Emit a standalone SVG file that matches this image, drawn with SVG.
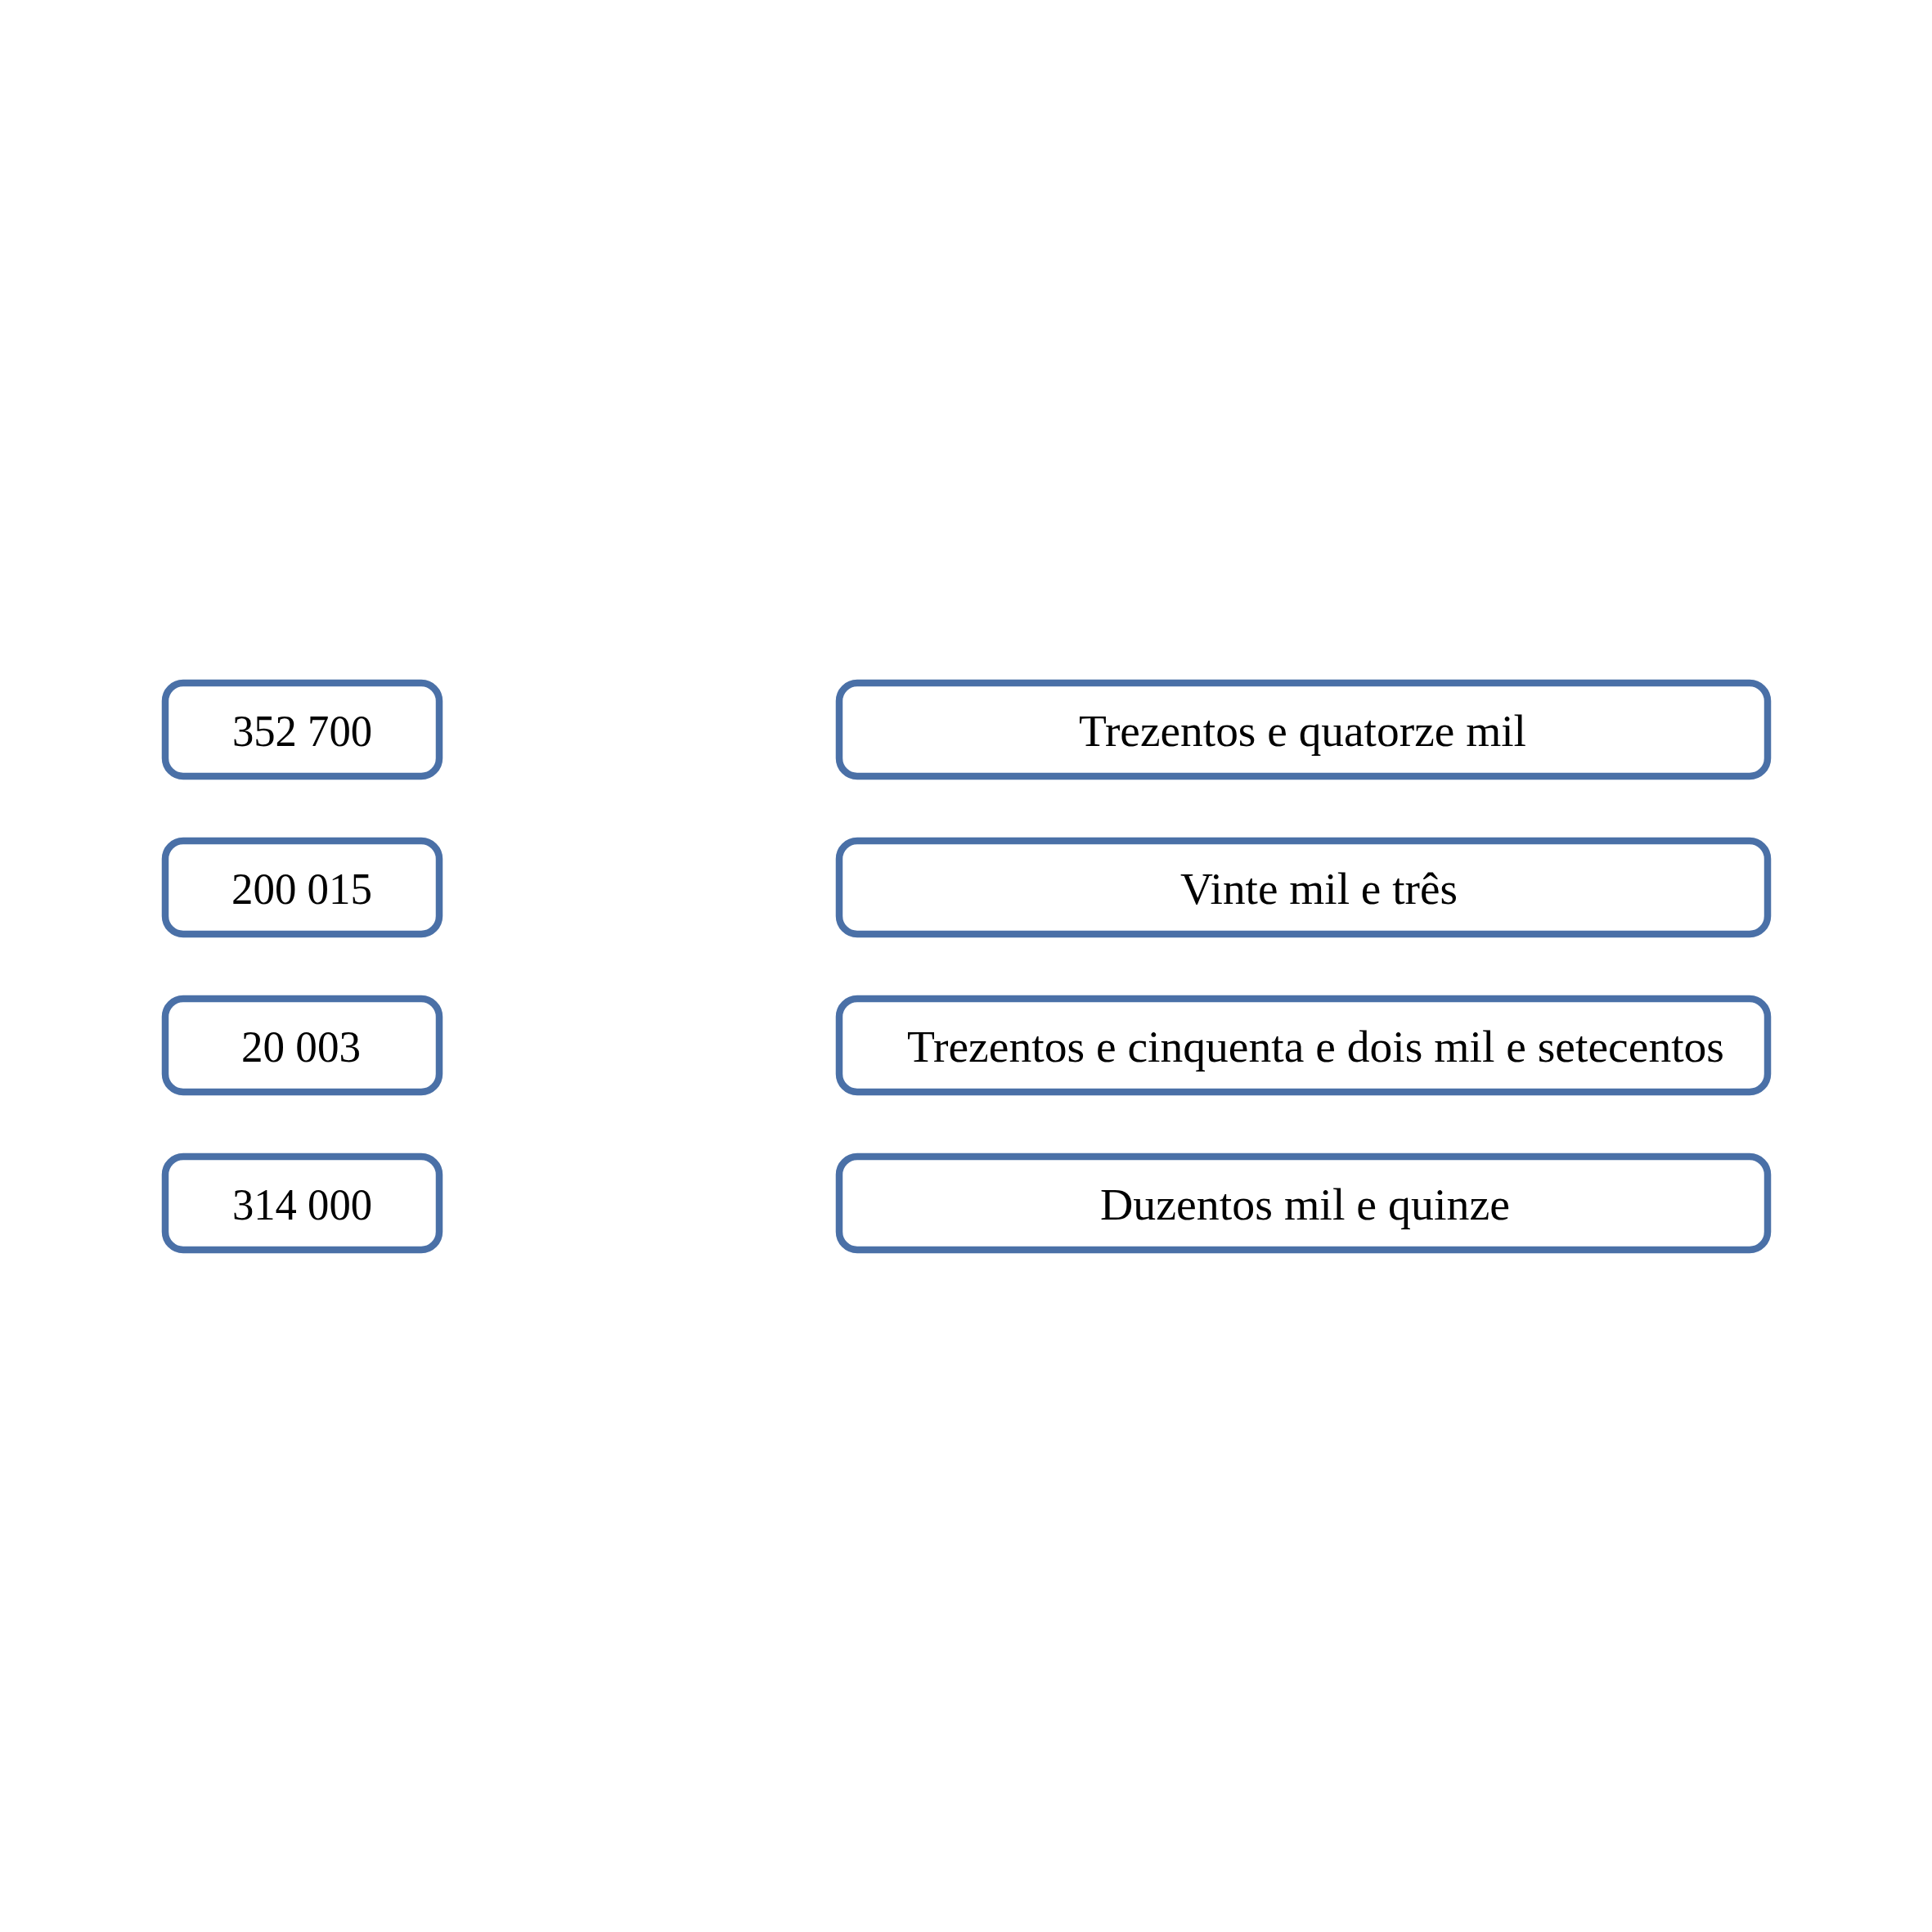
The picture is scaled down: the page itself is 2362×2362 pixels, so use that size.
<svg xmlns="http://www.w3.org/2000/svg" width="2362" height="2362" viewBox="0 0 2362 2362">
<style>
.box{fill:#ffffff;stroke:#4A70A7;stroke-width:8.5}
.t{font-family:"Liberation Serif","Times New Roman",serif;font-size:55px;fill:#000000}
</style>
<rect width="2362" height="2362" fill="#ffffff"/>
<g id="n1"><rect class="box" x="202" y="835" width="335" height="114" rx="22"/><text class="t" x="284" y="912" textLength="171" lengthAdjust="spacingAndGlyphs">352 700</text></g>
<g id="n2"><rect class="box" x="202" y="1028" width="335" height="114" rx="22"/><text class="t" x="283" y="1105" textLength="172" lengthAdjust="spacingAndGlyphs">200 015</text></g>
<g id="n3"><rect class="box" x="202" y="1221" width="335" height="114" rx="22"/><text class="t" x="295" y="1298" textLength="146" lengthAdjust="spacingAndGlyphs">20 003</text></g>
<g id="n4"><rect class="box" x="202" y="1414" width="335" height="114" rx="22"/><text class="t" x="284" y="1491" textLength="171" lengthAdjust="spacingAndGlyphs">314 000</text></g>
<g id="n5"><rect class="box" x="1026" y="835" width="1135" height="114" rx="22"/><text class="t" x="1319" y="912" textLength="547" lengthAdjust="spacingAndGlyphs">Trezentos e quatorze mil</text></g>
<g id="n6"><rect class="box" x="1026" y="1028" width="1135" height="114" rx="22"/><text class="t" x="1443" y="1105" textLength="339" lengthAdjust="spacingAndGlyphs">Vinte mil e três</text></g>
<g id="n7"><rect class="box" x="1026" y="1221" width="1135" height="114" rx="22"/><text class="t" x="1109" y="1298" textLength="999" lengthAdjust="spacingAndGlyphs">Trezentos e cinquenta e dois mil e setecentos</text></g>
<g id="n8"><rect class="box" x="1026" y="1414" width="1135" height="114" rx="22"/><text class="t" x="1345" y="1491" textLength="501" lengthAdjust="spacingAndGlyphs">Duzentos mil e quinze</text></g>
<g id="connectors"></g>
</svg>
